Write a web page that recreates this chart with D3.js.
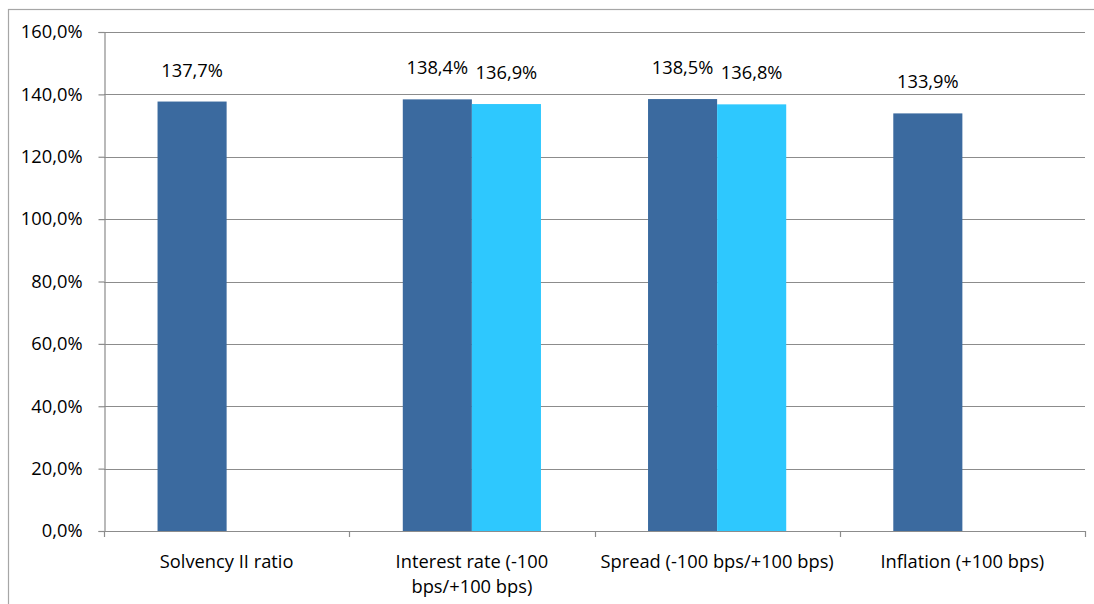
<!DOCTYPE html>
<html>
<head>
<meta charset="utf-8">
<script src="https://cdn.jsdelivr.net/npm/d3@7"></script>
<style>
  html, body { margin: 0; padding: 0; background: #fff; }
  svg text { font-family: "Open Sans", "Noto Sans", sans-serif; fill: #000; }
</style>
</head>
<body>
<svg id="chart" width="1094" height="604"></svg>
<script>
// Solvency II ratio sensitivities
const categories = [
  ["Solvency II ratio"],
  ["Interest rate (-100", "bps/+100 bps)"],
  ["Spread (-100 bps/+100 bps)"],
  ["Inflation (+100 bps)"]
];
const seriesDown = [137.7, 138.4, 138.5, 133.9];
const seriesUp = [null, 136.9, 136.8, null];
const yTicks = [0, 20, 40, 60, 80, 100, 120, 140, 160];

const FONT = "18.3px";
const svg = d3.select("#chart");
const margin = { left: 104, right: 1085, top: 32, bottom: 531 };

// outer chart frame
svg.append("rect")
  .attr("x", 8.5).attr("y", 9.5)
  .attr("width", 1100).attr("height", 620)
  .attr("fill", "none").attr("stroke", "#a6a6a6").attr("stroke-width", 1.2);

const x0 = d3.scaleBand()
  .domain(d3.range(categories.length))
  .range([margin.left, margin.right])
  .paddingInner(0).paddingOuter(0);

const inner = x0.bandwidth();
const barW = inner / (2 + 1.55);
const x1 = d3.scaleBand().domain([0, 1]).range([0, barW * 2]);

const y = d3.scaleLinear().domain([0, 160]).range([margin.bottom, margin.top]);
const fmt = v => d3.format(".1f")(v).replace(".", ",") + "%";

// gridlines
svg.append("g").selectAll("line").data(yTicks.filter(t => t > 0)).join("line")
  .attr("x1", margin.left).attr("x2", margin.right)
  .attr("y1", d => Math.round(y(d)) + 0.5).attr("y2", d => Math.round(y(d)) + 0.5)
  .attr("stroke", "#8c8c8c").attr("stroke-width", 1.2);

// y axis
const yAxis = d3.axisLeft(y).tickValues(yTicks).tickSize(6).tickPadding(16).tickFormat(fmt);
const gy = svg.append("g").attr("transform", `translate(${margin.left + 0.5},0)`).call(yAxis);
gy.select(".domain").attr("stroke", "#8c8c8c").attr("stroke-width", 1.2);
gy.selectAll(".tick line").attr("stroke", "#8c8c8c").attr("stroke-width", 1.2);
gy.selectAll(".tick text").style("font-size", FONT).attr("fill", "#000");

// x axis baseline and category ticks
svg.append("line")
  .attr("x1", margin.left).attr("x2", margin.right)
  .attr("y1", margin.bottom + 0.5).attr("y2", margin.bottom + 0.5)
  .attr("stroke", "#8c8c8c").attr("stroke-width", 1.2);
const bounds = d3.range(categories.length + 1).map(i => i === categories.length ? margin.right : x0(i));
svg.append("g").selectAll("line").data(bounds).join("line")
  .attr("x1", d => Math.round(d) + 0.5).attr("x2", d => Math.round(d) + 0.5)
  .attr("y1", margin.bottom).attr("y2", margin.bottom + 6)
  .attr("stroke", "#8c8c8c").attr("stroke-width", 1.2);

// bars with value labels
const colors = ["#3B6A9F", "#2EC8FE"];
const series = [seriesDown, seriesUp];
const groupStart = i => x0(i) + (inner - barW * 2) / 2;
series.forEach((vals, s) => {
  const data = vals.map((v, i) => ({ v, i })).filter(d => d.v != null);
  svg.append("g").selectAll("rect").data(data).join("rect")
    .attr("x", d => groupStart(d.i) + x1(s))
    .attr("width", barW)
    .attr("y", d => y(d.v))
    .attr("height", d => y(0) - y(d.v))
    .attr("fill", colors[s]);
  svg.append("g").selectAll("text").data(data).join("text")
    .attr("x", d => groupStart(d.i) + x1(s) + barW / 2)
    .attr("y", d => y(d.v) - 25)
    .attr("text-anchor", "middle")
    .style("font-size", FONT)
    .text(d => fmt(d.v));
});

// category labels
categories.forEach((lines, i) => {
  const cx = x0(i) + inner / 2;
  const t = svg.append("text")
    .attr("x", cx)
    .attr("y", 568)
    .attr("text-anchor", "middle")
    .style("font-size", FONT);
  lines.forEach((ln, k) => {
    t.append("tspan").attr("x", cx).attr("dy", k === 0 ? 0 : 24.5).text(ln);
  });
});
</script>
</body>
</html>
